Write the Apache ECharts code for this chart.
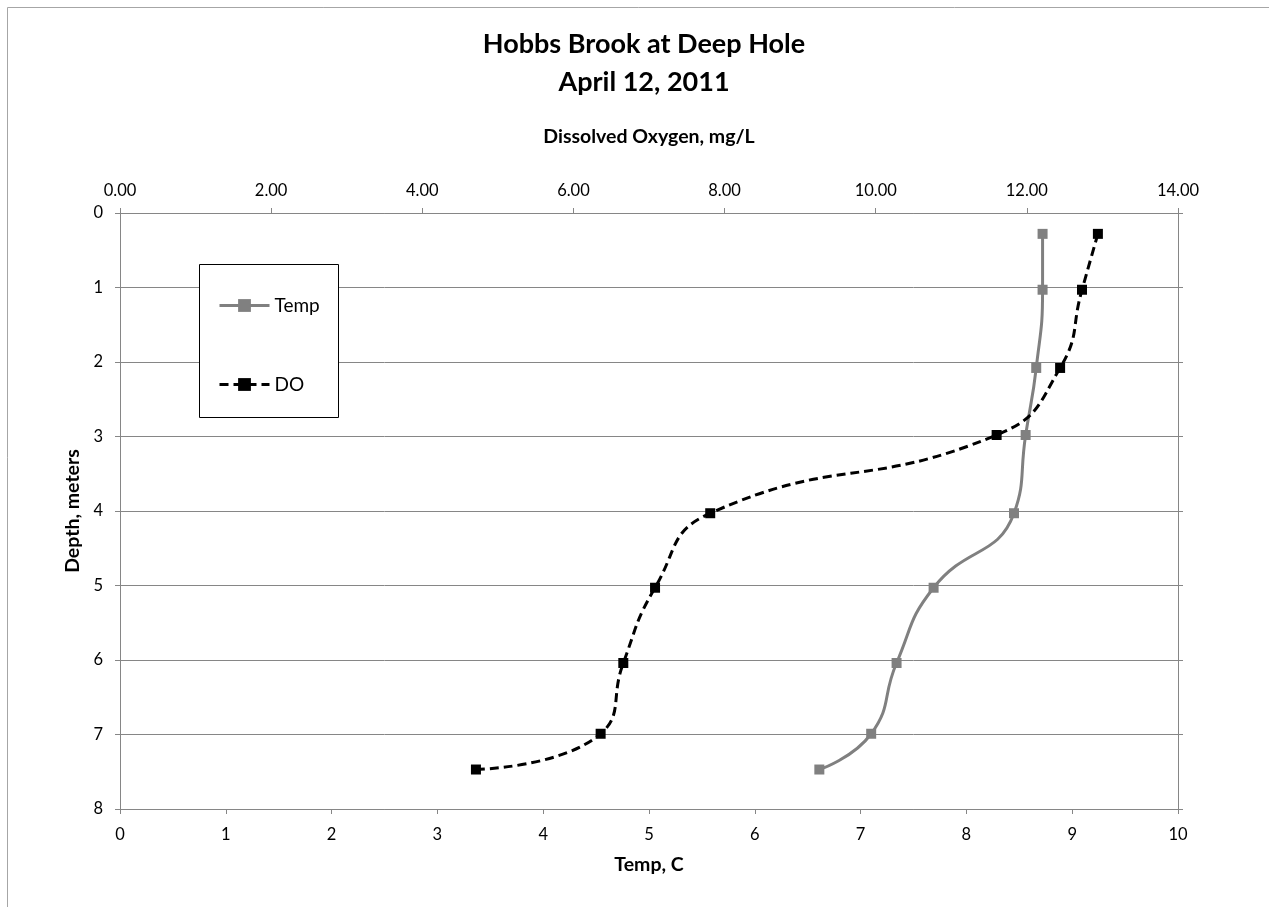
<!DOCTYPE html>
<html>
<head>
<meta charset="utf-8">
<script src="https://cdn.jsdelivr.net/npm/echarts@6/dist/echarts.min.js"></script>
<style>
  html, body { margin: 0; padding: 0; background: #fff; }
  #chart { width: 1269px; height: 907px; }
</style>
</head>
<body>
<div id="chart"></div>
<script>
// Profile sampling depths (m)
const depths = [0.28, 1.03, 2.08, 2.98, 4.03, 5.03, 6.04, 6.99, 7.47];
// Water temperature (C) at each depth
const tempValues = [8.72, 8.72, 8.66, 8.56, 8.45, 7.69, 7.34, 7.10, 6.61];
// Dissolved oxygen (mg/L) at each depth
const doValues = [12.94, 12.73, 12.44, 11.60, 7.81, 7.08, 6.66, 6.36, 4.71];

const titleLines = ['Hobbs Brook at Deep Hole', 'April 12, 2011'];
const seriesNames = ['Temp', 'DO'];

const FONT = 'Lato, "Open Sans", sans-serif';
const AXIS_GRAY = '#868686';

const chart = echarts.init(document.getElementById('chart'));

const pairs = (xs) => xs.map((x, i) => [x, depths[i]]);

const labelStyle = { color: '#000', fontSize: 16.5, fontFamily: FONT };
const nameStyle = { color: '#000', fontSize: 19.5, fontWeight: 'bold', fontFamily: FONT };

chart.setOption({
  animation: false,
  backgroundColor: '#fff',
  grid: { left: 120, right: 91, top: 213, bottom: 98 },
  graphic: [
    { type: 'rect', shape: { x: 7.5, y: 7.5, width: 1300, height: 950 },
      style: { fill: null, stroke: '#a6a6a6', lineWidth: 1 }, z: -10 },
    { type: 'text', x: 644, y: 44,
      style: { text: titleLines[0], textAlign: 'center', textVerticalAlign: 'middle',
               font: 'bold 27px ' + FONT, fill: '#000' } },
    { type: 'text', x: 644, y: 82,
      style: { text: titleLines[1], textAlign: 'center', textVerticalAlign: 'middle',
               font: 'bold 27px ' + FONT, fill: '#000' } },
    { type: 'rect', shape: { x: 199.5, y: 264.5, width: 139, height: 153 },
      style: { fill: '#fff', stroke: '#000', lineWidth: 1 }, z: 5 }
  ],
  legend: {
    orient: 'vertical',
    left: 218, top: 296,
    padding: 0,
    itemWidth: 50, itemHeight: 16, itemGap: 60,
    lineStyle: { width: 3 },
    textStyle: { color: '#000', fontSize: 19, fontFamily: FONT },
    data: seriesNames,
    z: 10
  },
  xAxis: [
    {
      type: 'value', position: 'bottom', min: 0, max: 10, interval: 1,
      name: 'Temp, C', nameLocation: 'middle', nameGap: 46, nameTextStyle: nameStyle,
      axisLine: { show: true, onZero: false, lineStyle: { color: AXIS_GRAY, width: 1 } },
      axisTick: { show: true, inside: false, length: 5, lineStyle: { color: AXIS_GRAY } },
      axisLabel: Object.assign({ margin: 17 }, labelStyle),
      splitLine: { show: false }
    },
    {
      type: 'value', position: 'top', min: 0, max: 14, interval: 2,
      name: 'Dissolved Oxygen, mg/L', nameLocation: 'middle', nameGap: 66, nameTextStyle: nameStyle,
      axisLine: { show: true, onZero: false, lineStyle: { color: AXIS_GRAY, width: 1 } },
      axisTick: { show: true, inside: false, length: 5, lineStyle: { color: AXIS_GRAY } },
      axisLabel: Object.assign({ margin: 14, formatter: (v) => v.toFixed(2) }, labelStyle),
      splitLine: { show: false }
    }
  ],
  yAxis: [
    {
      type: 'value', position: 'left', inverse: true, min: 0, max: 8, interval: 1,
      name: 'Depth, meters', nameLocation: 'middle', nameGap: 35, nameRotate: 90, nameTextStyle: nameStyle,
      axisLine: { show: true, onZero: false, lineStyle: { color: AXIS_GRAY, width: 1 } },
      axisTick: { show: true, inside: false, length: 5, lineStyle: { color: AXIS_GRAY } },
      axisLabel: Object.assign({ margin: 17 }, labelStyle),
      splitLine: { show: true, lineStyle: { color: AXIS_GRAY, width: 1 } }
    },
    {
      type: 'value', position: 'right', inverse: true, min: 0, max: 8, interval: 1,
      axisLine: { show: true, onZero: false, lineStyle: { color: AXIS_GRAY, width: 1 } },
      axisTick: { show: true, inside: false, length: 5, lineStyle: { color: AXIS_GRAY } },
      axisLabel: { show: false },
      splitLine: { show: false }
    }
  ],
  series: [
    {
      name: seriesNames[0], type: 'line', xAxisIndex: 0, yAxisIndex: 0,
      data: pairs(tempValues),
      smooth: 0.5,
      symbol: 'rect', symbolSize: 10,
      lineStyle: { color: '#808080', width: 3 },
      itemStyle: { color: '#808080' },
      z: 3
    },
    {
      name: seriesNames[1], type: 'line', xAxisIndex: 1, yAxisIndex: 0,
      data: pairs(doValues),
      smooth: 0.5,
      symbol: 'rect', symbolSize: 10,
      lineStyle: { color: '#000', width: 3, type: [9, 5] },
      itemStyle: { color: '#000' },
      z: 4
    }
  ]
});
</script>
</body>
</html>
